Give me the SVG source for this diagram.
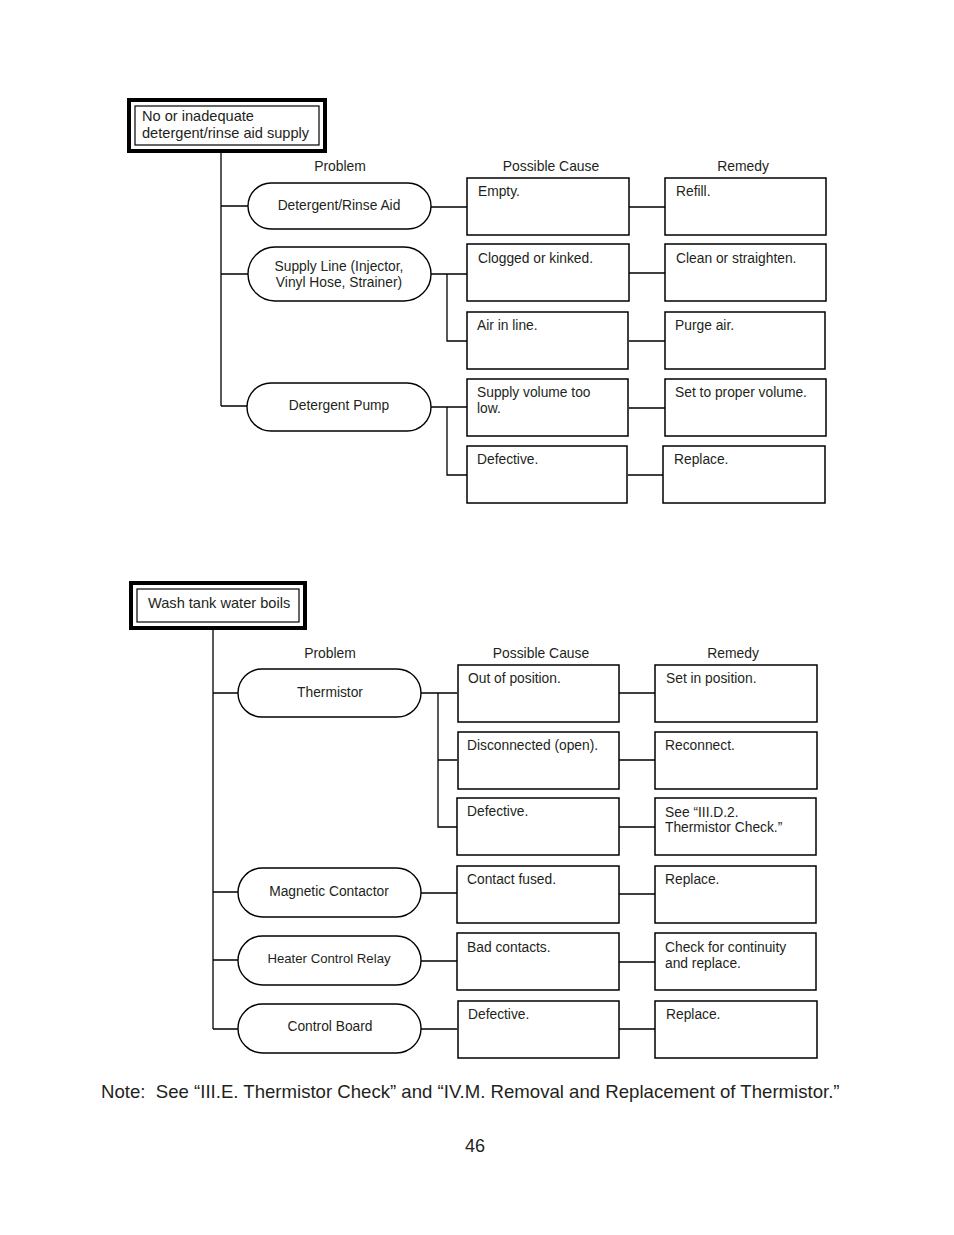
<svg xmlns="http://www.w3.org/2000/svg" width="954" height="1235" viewBox="0 0 954 1235">
<style>
text{font-family:"Liberation Sans",Arial,sans-serif;fill:#231f20}
.t{font-size:14.6px}
.h{font-size:13.9px;text-anchor:middle}
.s{font-size:13.8px;text-anchor:middle}
.b{font-size:13.8px}
.box{fill:#fff;stroke:#000;stroke-width:1.5}
.st{fill:#fff;stroke:#000;stroke-width:1.4}
.outer{fill:#fff;stroke:#000;stroke-width:4}
.inner{fill:none;stroke:#000;stroke-width:1.2}
.c{fill:none;stroke:#000;stroke-width:1.3}
</style>
<rect width="954" height="1235" fill="#fff"/>

<g id="connectors">
<path class="c" d="M221,152 V406 M221,206 H248 M221,274 H248 M221,406 H247"/>
<path class="c" d="M431,207 H467 M629,207 H665"/>
<path class="c" d="M431,274 H467 M447,274 V341 H467 M629,273 H665 M629,341 H665"/>
<path class="c" d="M431,407 H467 M447,407 V475 H467 M629,408 H665 M628,475 H663"/>
<path class="c" d="M213,629 V1029 M213,693 H238 M213,892 H238 M213,960 H238 M213,1029 H238"/>
<path class="c" d="M421,693 H457 M438,693 V827 H457 M438,760 H457"/>
<path class="c" d="M619,693 H655 M619,760 H655 M619,827 H655"/>
<path class="c" d="M421,893 H457 M619,894 H655"/>
<path class="c" d="M421,961 H457 M619,962 H655"/>
<path class="c" d="M421,1029 H457 M619,1029 H655"/>
</g>

<g id="title1">
<rect class="outer" x="129" y="100" width="196" height="51"/>
<rect class="inner" x="135" y="106" width="184" height="39"/>
<text class="t" x="142" y="121">No or inadequate</text>
<text class="t" x="142" y="138">detergent/rinse aid supply</text>
</g>

<g id="headers1">
<text class="h" x="340" y="171">Problem</text>
<text class="h" x="551" y="171">Possible Cause</text>
<text class="h" x="743" y="171">Remedy</text>
</g>

<g id="p-detergent-rinse">
<rect class="st" x="248" y="183" width="183" height="46" rx="23"/>
<text class="s" x="339" y="210">Detergent/Rinse Aid</text>
</g>
<g id="p-supply-line">
<rect class="st" x="248" y="247" width="183" height="54" rx="27"/>
<text class="s" x="339" y="271">Supply Line (Injector,</text>
<text class="s" x="339" y="287">Vinyl Hose, Strainer)</text>
</g>
<g id="p-detergent-pump">
<rect class="st" x="247" y="383" width="184" height="48" rx="24"/>
<text class="s" x="339" y="410">Detergent Pump</text>
</g>

<g id="c-empty"><rect class="box" x="467" y="178" width="162" height="57"/><text class="b" x="478" y="196">Empty.</text></g>
<g id="r-refill"><rect class="box" x="665" y="178" width="161" height="57"/><text class="b" x="676" y="196">Refill.</text></g>
<g id="c-clogged"><rect class="box" x="467" y="244" width="162" height="57"/><text class="b" x="478" y="263">Clogged or kinked.</text></g>
<g id="r-clean"><rect class="box" x="665" y="244" width="161" height="57"/><text class="b" x="676" y="263">Clean or straighten.</text></g>
<g id="c-air"><rect class="box" x="467" y="312" width="161" height="57"/><text class="b" x="477" y="330">Air in line.</text></g>
<g id="r-purge"><rect class="box" x="665" y="312" width="160" height="57"/><text class="b" x="675" y="330">Purge air.</text></g>
<g id="c-supply-volume"><rect class="box" x="467" y="379" width="161" height="57"/><text class="b" x="477" y="397">Supply volume too</text><text class="b" x="477" y="413">low.</text></g>
<g id="r-set-volume"><rect class="box" x="665" y="379" width="161" height="57"/><text class="b" x="675" y="397">Set to proper volume.</text></g>
<g id="c-defective1"><rect class="box" x="467" y="446" width="160" height="57"/><text class="b" x="477" y="464">Defective.</text></g>
<g id="r-replace1"><rect class="box" x="663" y="446" width="162" height="57"/><text class="b" x="674" y="464">Replace.</text></g>

<g id="title2">
<rect class="outer" x="131" y="583" width="174" height="45"/>
<rect class="inner" x="137" y="589" width="162" height="33"/>
<text class="t" x="148" y="608">Wash tank water boils</text>
</g>

<g id="headers2">
<text class="h" x="330" y="658">Problem</text>
<text class="h" x="541" y="658">Possible Cause</text>
<text class="h" x="733" y="658">Remedy</text>
</g>

<g id="p-thermistor"><rect class="st" x="238" y="669" width="183" height="48" rx="24"/><text class="s" x="330" y="697">Thermistor</text></g>
<g id="p-magnetic"><rect class="st" x="238" y="868" width="183" height="49" rx="24.5"/><text class="s" x="329" y="896">Magnetic Contactor</text></g>
<g id="p-heater"><rect class="st" x="238" y="936" width="183" height="49" rx="24.5"/><text class="s" x="329" y="963" style="font-size:13.2px">Heater Control Relay</text></g>
<g id="p-control"><rect class="st" x="238" y="1004" width="183" height="49" rx="24.5"/><text class="s" x="330" y="1031">Control Board</text></g>

<g id="c-out"><rect class="box" x="458" y="665" width="161" height="57"/><text class="b" x="468" y="683">Out of position.</text></g>
<g id="r-set-pos"><rect class="box" x="655" y="665" width="162" height="57"/><text class="b" x="666" y="683">Set in position.</text></g>
<g id="c-disconnected"><rect class="box" x="458" y="732" width="161" height="57"/><text class="b" x="467" y="750">Disconnected (open).</text></g>
<g id="r-reconnect"><rect class="box" x="655" y="732" width="162" height="57"/><text class="b" x="665" y="750">Reconnect.</text></g>
<g id="c-defective2"><rect class="box" x="457" y="798" width="162" height="57"/><text class="b" x="467" y="816">Defective.</text></g>
<g id="r-see"><rect class="box" x="655" y="798" width="161" height="57"/><text class="b" x="665" y="817">See “III.D.2.</text><text class="b" x="665" y="832">Thermistor Check.”</text></g>
<g id="c-contact"><rect class="box" x="457" y="866" width="162" height="57"/><text class="b" x="467" y="884">Contact fused.</text></g>
<g id="r-replace2"><rect class="box" x="655" y="866" width="161" height="57"/><text class="b" x="665" y="884">Replace.</text></g>
<g id="c-bad"><rect class="box" x="457" y="933" width="162" height="57"/><text class="b" x="467" y="952">Bad contacts.</text></g>
<g id="r-check"><rect class="box" x="655" y="933" width="161" height="57"/><text class="b" x="665" y="952">Check for continuity</text><text class="b" x="665" y="968">and replace.</text></g>
<g id="c-defective3"><rect class="box" x="458" y="1001" width="161" height="57"/><text class="b" x="468" y="1019">Defective.</text></g>
<g id="r-replace3"><rect class="box" x="655" y="1001" width="162" height="57"/><text class="b" x="666" y="1019">Replace.</text></g>

<text x="101" y="1098" style="font-size:18.6px;white-space:pre" xml:space="preserve">Note:  See “III.E. Thermistor Check” and “IV.M. Removal and Replacement of Thermistor.”</text>
<text x="475" y="1152" style="font-size:18px;text-anchor:middle">46</text>
</svg>
